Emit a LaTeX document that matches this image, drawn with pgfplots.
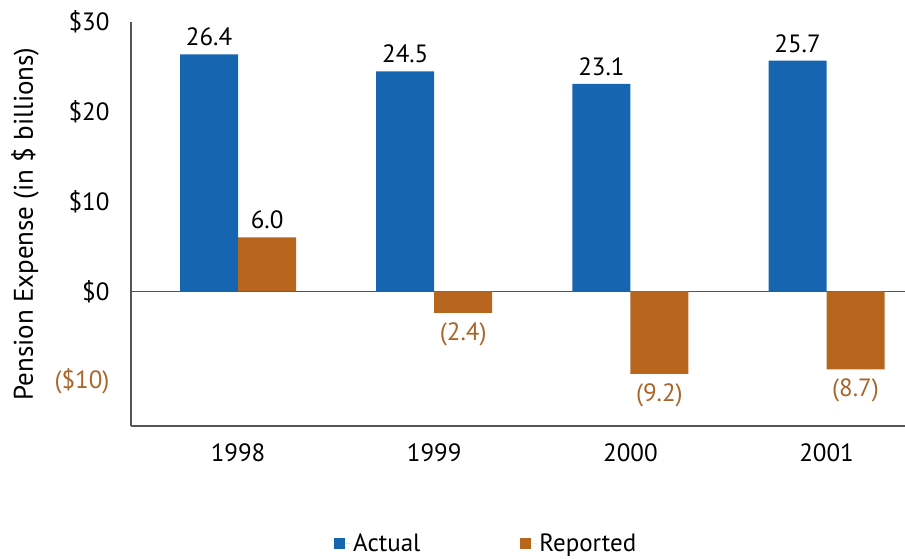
\documentclass[border=0pt]{standalone}
\usepackage{pgfplots}
\pgfplotsset{compat=1.18}
\usepackage{fontspec}
\setmainfont{PT Sans}
\definecolor{actc}{HTML}{1565B0}
\definecolor{repc}{HTML}{B8651E}
\definecolor{replab}{HTML}{A9662A}
\definecolor{axc}{HTML}{555555}
\begin{document}
\begin{tikzpicture}
\path[use as bounding box] (0,0) rectangle (905pt,-559pt);
\begin{axis}[
  anchor=north west, at={(131pt,-22pt)},
  scale only axis, width=774pt, height=404pt,
  xmin=-0.546, xmax=3.40, ymin=-15, ymax=30,
  axis x line*=bottom, axis y line*=left,
  axis line style={-, axc, line width=1.3pt},
  ybar=0pt, bar width=58pt,
  xtick={0,1,2,3}, xticklabels={1998,1999,2000,2001},
  ytick={-10,0,10,20,30},
  yticklabels={\textcolor{replab}{(\$10)},\$0,\$10,\$20,\$30},
  major tick length=0pt,
  tick label style={font=\fontsize{25}{29}\selectfont},
  yticklabel style={xshift=-18pt},
  xticklabel style={yshift=-14pt},
  extra y ticks={0}, extra y tick labels={},
  extra y tick style={grid=major, major grid style={axc, line width=1pt}},
  ylabel={Pension Expense (in \$ billions)},
  ylabel style={at={(axis description cs:-0.137,0.5)}, anchor=center, font=\fontsize{27}{31}\selectfont},
  nodes near coords, point meta=explicit symbolic,
  visualization depends on={rawy \as \rawy},
  nodes near coords style={font=\fontsize{25}{29}\selectfont, inner sep=3pt,
    yshift={(\rawy<0)*(-36pt)+(\rawy>=0)*(5pt)}},
  legend columns=2,
  legend style={at={(0.459,-0.29)}, anchor=center, draw=none, fill=none,
    font=\fontsize{25}{29}\selectfont,
    /tikz/every even column/.append style={column sep=98pt}},
  legend image code/.code={\fill[#1] (0pt,-5.5pt) rectangle (11pt,5.5pt); \path (0pt,0pt) -- (17pt,0pt);},
]
\addplot[fill=actc, draw=none] coordinates {(0,26.4) [26.4] (1,24.5) [24.5] (2,23.1) [23.1] (3,25.7) [25.7]};
\addlegendentry{Actual}
\addplot[fill=repc, draw=none] coordinates {(0,6.0) [6.0] (1,-2.4) [\textcolor{replab}{(2.4)}] (2,-9.2) [\textcolor{replab}{(9.2)}] (3,-8.7) [\textcolor{replab}{(8.7)}]};
\addlegendentry{Reported}
\end{axis}
\end{tikzpicture}
\end{document}
